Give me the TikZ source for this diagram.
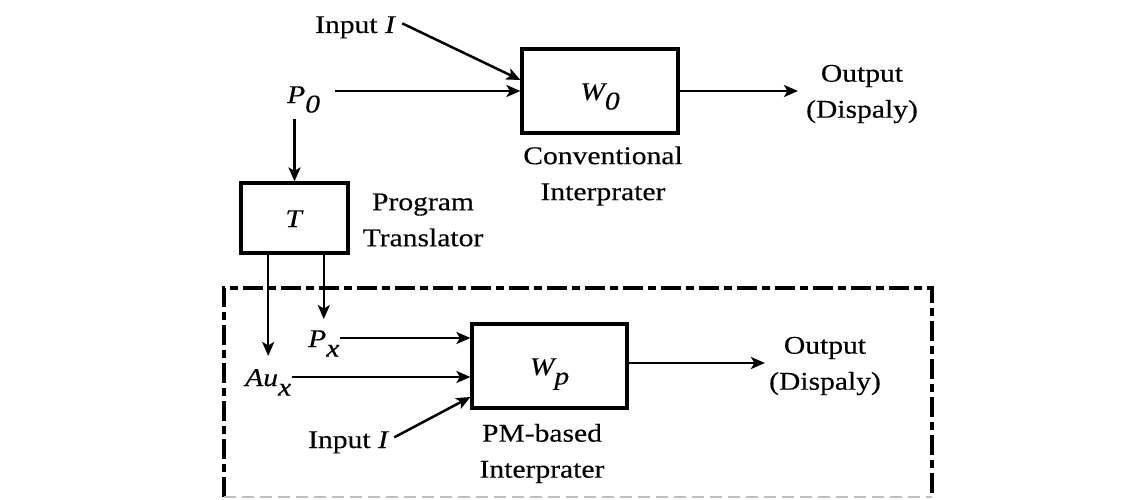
\documentclass[tikz,border=0pt]{standalone}
\usepackage{fontspec}
\setmainfont{Liberation Serif}[FakeStretch=1.16,FakeBold=0.3]
\usetikzlibrary{arrows.meta,calc}
% subscripts are set at full size, only lowered
\newcommand\lowsub[1]{\raisebox{-9.5pt}{#1}}
\begin{document}
\begin{tikzpicture}[x=1pt,y=-1pt,
  every node/.style={font=\fontsize{25.5}{36}\selectfont},
  blk/.style={draw,line width=3.2pt,inner sep=0pt,text height=18pt,text depth=0pt},
  lbl/.style={inner sep=0pt,anchor=base west},
  twoline/.style={align=center,inner sep=0pt},
  arr/.style={line width=2.5pt,-{Stealth[length=14pt,width=12pt,inset=3.5pt]}},
  frame/.style={line width=3.4pt,dash pattern=on 20pt off 5pt on 8pt off 5pt}]
\useasboundingbox (0,0) rectangle (1142,500);

% conventional interpreter
\node[blk,minimum width=156pt,minimum height=84pt] (W0) at (600,91) {\textit{W\lowsub{0}}};
\node[lbl] (in1) at (315,33) {Input \textit{I}};
\node[lbl] (P0) at (287,103) {\textit{P\lowsub{0}}};
\node[twoline,inner xsep=8pt] (out1) at (862,94) {Output\\(Dispaly)};
\node[twoline] (conv) at (603,176) {Conventional\\Interprater};

% program translator
\node[blk,minimum width=107pt,minimum height=70pt] (T) at (294.5,218) {\textit{T}};
\node[twoline] (trl) at (423,220) {Program\\Translator};

% PM-based interpreter
\node[blk,minimum width=155pt,minimum height=84pt] (Wp) at (549.5,366) {\textit{W\lowsub{p}}};
\node[lbl] (Px) at (308,347) {\textit{P\lowsub{x}}};
\node[lbl] (Aux) at (245,386) {\textit{Au\lowsub{x}}};
\node[lbl] (in2) at (308,448) {Input \textit{I}};
\node[twoline,inner xsep=4pt] (out2) at (825,366) {Output\\(Dispaly)};
\node[twoline] (pm) at (542,453.5) {PM-based\\Interprater};

% connectors of the upper part
\draw[arr] ($(in1.east)+(6pt,4pt)$) -- ($(W0.west)+(0,11pt)$);
\draw[arr] ($(P0.east |- W0.west)+(15pt,0)$) -- (W0.west);
\draw[arr] (W0.east) -- (W0.east -| out1.west);
\draw[arr] ($(P0.south -| T.north)+(0,-6pt)$) -- (T.north);

% translator outputs
\draw[arr] (T.south -| Aux.north) -- ($(Aux.north)+(0,13pt)$);
\draw[arr] (T.south -| Px.north) -- ($(Px.north)+(0,11pt)$);

% connectors of the lower part
\draw[arr] ($(Px.east |- Wp.west)+(0,28pt)$) -- ($(Wp.west)+(0,28pt)$);
\draw[arr] ($(Aux.east |- Wp.west)+(1pt,-11pt)$) -- ($(Wp.west)+(0,-11pt)$);
\draw[arr] ($(in2.east)+(5pt,5pt)$) -- ($(Wp.west)+(0,-31pt)$);
\draw[arr] ($(Wp.east)+(0,3pt)$) -- ($(Wp.east -| out2.west)+(0,3pt)$);

% dashed frame round the PM-based part
\draw[frame] (224,497) -- (224,288) -- (932,288) -- (932,497);
\draw[line width=2pt,gray!50,dash pattern=on 12pt off 6pt] (224,497) -- (932,497);
\end{tikzpicture}
\end{document}
